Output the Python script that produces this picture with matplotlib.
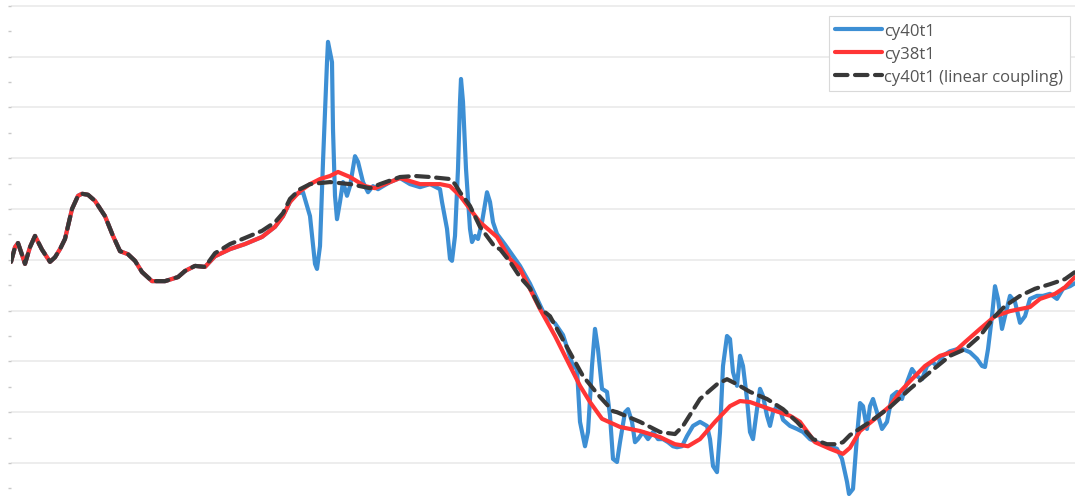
import numpy as np
import matplotlib.pyplot as plt
from matplotlib.ticker import MultipleLocator

# part where all three curves sit on top of each other
x_head = [11, 15, 18, 22, 25, 30, 35, 42, 50, 55, 60, 65, 72, 78, 82, 88, 95, 105, 113,
          120, 128, 135, 142, 152, 165, 178, 185, 195, 205]
y_head = [39.6, 42.5, 43.3, 41.0, 39.2, 42.5, 44.7, 42.0, 39.6, 40.5, 42.1, 44.1, 50.0, 52.6, 53.0,
          52.8, 51.6, 48.6, 44.7, 41.7, 41.1, 39.8, 37.6, 35.8, 35.8, 36.6, 37.8, 38.8, 38.6]

# cy38t1 (red)
x_red = [215, 230, 245, 262, 275, 283, 290, 300, 310, 320, 330, 338, 350, 365, 375, 390, 400,
         420, 440, 450, 460, 470, 480, 497, 510, 520, 540, 555, 570, 580, 590, 602, 620, 640,
         660, 675, 688, 700, 715, 730, 740, 750, 770, 790, 800, 815, 830, 843, 850, 860, 875,
         890, 900, 910, 925, 940, 955, 965, 980, 995, 1010, 1030, 1040, 1055, 1065, 1075]
y_red = [40.7, 42.1, 43.1, 44.5, 46.5, 48.6, 51.4, 53.5, 54.9, 55.9, 56.5, 57.3, 56.3, 54.5, 54.1,
         55.3, 56.1, 54.9, 54.9, 54.5, 52.6, 50.0, 47.4, 44.5, 40.2, 38.2, 30.3, 25.0, 19.1, 15.2,
         12.0, 8.7, 7.1, 6.3, 5.1, 3.7, 3.3, 4.7, 8.1, 11.2, 12.2, 12.0, 10.6, 9.3, 8.1, 4.1, 2.8,
         1.8, 3.0, 6.3, 8.7, 11.2, 14.0, 16.1, 19.1, 21.1, 22.0, 23.8, 26.4, 28.9, 29.9, 30.7,
         32.3, 33.3, 34.6, 36.6]

# cy40t1 (linear coupling) (black dashed)
x_lin = [215, 230, 245, 262, 275, 283, 290, 300, 310, 330, 350, 370, 380, 400, 415, 430, 450,
         455, 460, 470, 480, 495, 500, 510, 520, 530, 540, 550, 567, 583, 600, 613, 617, 640,
         660, 675, 683, 700, 717, 727, 737, 750, 767, 783, 797, 813, 827, 837, 843, 850, 870,
         890, 910, 930, 950, 965, 980, 995, 1005, 1020, 1035, 1050, 1065, 1075]
y_lin = [41.3, 43.1, 44.3, 45.7, 47.4, 49.2, 52.0, 53.9, 54.9, 55.3, 54.9, 54.1, 54.9, 56.3,
         56.5, 56.3, 55.9, 54.9, 53.3, 50.6, 46.5, 42.5, 42.1, 39.6, 36.6, 34.4, 30.5, 28.9, 22.8,
         17.1, 13.0, 10.2, 10.0, 8.1, 6.1, 5.7, 7.3, 12.6, 15.5, 16.5, 15.5, 14.0, 12.6, 10.6,
         8.1, 4.7, 3.7, 3.7, 4.1, 5.5, 8.1, 11.0, 14.6, 17.9, 21.1, 22.4, 25.0, 28.9, 30.9, 32.9,
         34.3, 35.2, 36.2, 37.6]

# cy40t1 (blue), identical to red before ~x=300
x_blue = [215, 230, 245, 262, 275, 283, 290, 296, 303, 310, 315, 317, 320, 323, 327, 328, 332,
          333, 335, 337, 340, 343, 347, 350, 355, 358, 363, 368, 373, 378, 383, 390, 400, 410,
          420, 430, 440, 442, 447, 450, 452, 455, 458, 460, 461, 463, 466, 470, 472, 475, 478,
          482, 487, 490, 493, 497, 505, 520, 530, 545, 555, 563, 573, 577, 580, 585, 588, 592,
          595, 598, 602, 607, 610, 613, 617, 620, 625, 628, 632, 635, 638, 643, 648, 653, 658,
          663, 668, 673, 677, 682, 687, 693, 700, 707, 710, 713, 717, 720, 723, 727, 730, 733,
          737, 740, 743, 747, 750, 753, 757, 760, 763, 767, 770, 773, 777, 780, 783, 790, 797,
          803, 810, 817, 823, 830, 837, 842, 847, 849, 853, 857, 860, 863, 867, 870, 873, 877,
          882, 887, 892, 897, 902, 907, 912, 917, 922, 927, 932, 937, 943, 950, 957, 963, 970,
          977, 982, 985, 988, 992, 995, 998, 1002, 1005, 1010, 1015, 1020, 1025, 1030, 1037,
          1043, 1050, 1057, 1063, 1070, 1075]
y_blue = [40.7, 42.1, 43.1, 44.5, 46.5, 48.6, 51.4, 53.0, 53.3, 48.6, 39.2, 38.2, 42.7, 59.3,
          78.9, 82.9, 78.9, 65.7, 52.6, 48.0, 51.4, 55.3, 52.6, 54.5, 60.4, 59.3, 55.3, 53.3, 54.5,
          53.9, 54.5, 55.3, 56.1, 54.9, 54.3, 54.9, 53.9, 51.4, 46.1, 40.2, 39.8, 44.7, 57.9, 71.1,
          75.6, 71.1, 57.9, 46.1, 43.5, 44.7, 44.1, 47.4, 53.3, 51.4, 47.4, 45.1, 43.0, 38.8, 35.3,
          29.0, 27.5, 25.2, 19.1, 18.5, 8.1, 3.3, 6.1, 19.1, 26.4, 22.4, 14.6, 14.0, 9.3, 0.8, 0.2,
          4.1, 10.0, 10.6, 8.1, 4.1, 4.7, 6.1, 4.7, 6.1, 4.7, 4.7, 4.1, 3.3, 3.1, 3.3, 5.3, 7.3,
          8.1, 7.3, 4.7, -0.6, -1.8, 6.1, 19.1, 25.0, 24.4, 17.9, 15.2, 21.1, 19.1, 12.6, 6.1, 4.7,
          10.6, 14.6, 13.2, 9.3, 7.3, 10.0, 11.2, 10.6, 8.5, 7.3, 6.7, 6.1, 4.7, 4.1, 3.7, 3.3,
          2.8, 0.8, -3.7, -6.1, -5.1, 5.3, 11.8, 11.2, 6.7, 11.2, 12.6, 10.0, 6.7, 8.1, 13.2, 14.0,
          12.6, 15.9, 18.5, 17.1, 16.5, 19.1, 19.9, 19.1, 21.1, 22.0, 22.4, 22.4, 21.8, 20.5, 19.1,
          18.9, 22.4, 28.9, 34.8, 32.3, 26.4, 28.9, 32.9, 31.7, 27.6, 28.9, 32.3, 32.9, 32.9, 33.3,
          32.3, 34.3, 34.8, 35.4]

labels = ["cy40t1", "cy38t1", "cy40t1 (linear coupling)"]

fig = plt.figure(figsize=(10.75, 5.02), dpi=100)
ax = fig.add_axes([11 / 1075, 0, 1 - 11 / 1075, 1])

ax.plot(x_head + x_blue, y_head + y_blue, color="#3d8fd4", lw=3.0, label=labels[0],
        solid_joinstyle="round", solid_capstyle="round")
ax.plot(x_head + x_red, y_head + y_red, color="#ff3535", lw=3.0, label=labels[1],
        solid_joinstyle="round", solid_capstyle="round")
ax.plot(x_head + x_lin, y_head + y_lin, color="#383838", lw=3.0, ls=(0, (3.0, 1.8)),
        label=labels[2], dash_capstyle="round")

ax.set_xlim(11, 1075)
ax.set_ylim(-7.48, 91.34)
ax.yaxis.set_major_locator(MultipleLocator(10))
ax.yaxis.set_minor_locator(MultipleLocator(5))
ax.set_xticks([])
ax.tick_params(axis="y", which="both", length=2, width=1, color="#c8c8c8", labelleft=False)
ax.grid(axis="y", which="major", color="#ececec", lw=1.3)
ax.set_axisbelow(True)
for s in ax.spines.values():
    s.set_visible(False)

leg = ax.legend(loc="upper right", bbox_to_anchor=(1070 / 1075, 1 - 17 / 502),
                bbox_transform=fig.transFigure, borderaxespad=0, fancybox=False,
                prop={"family": "Open Sans", "size": 12}, handlelength=2.8, handletextpad=0.15,
                labelspacing=0.42, borderpad=0.4, framealpha=1, edgecolor="#d9d9d9")
leg.get_frame().set_linewidth(0.8)
for t in leg.get_texts():
    t.set_color("#555555")

fig.savefig("out.png", dpi=100)
